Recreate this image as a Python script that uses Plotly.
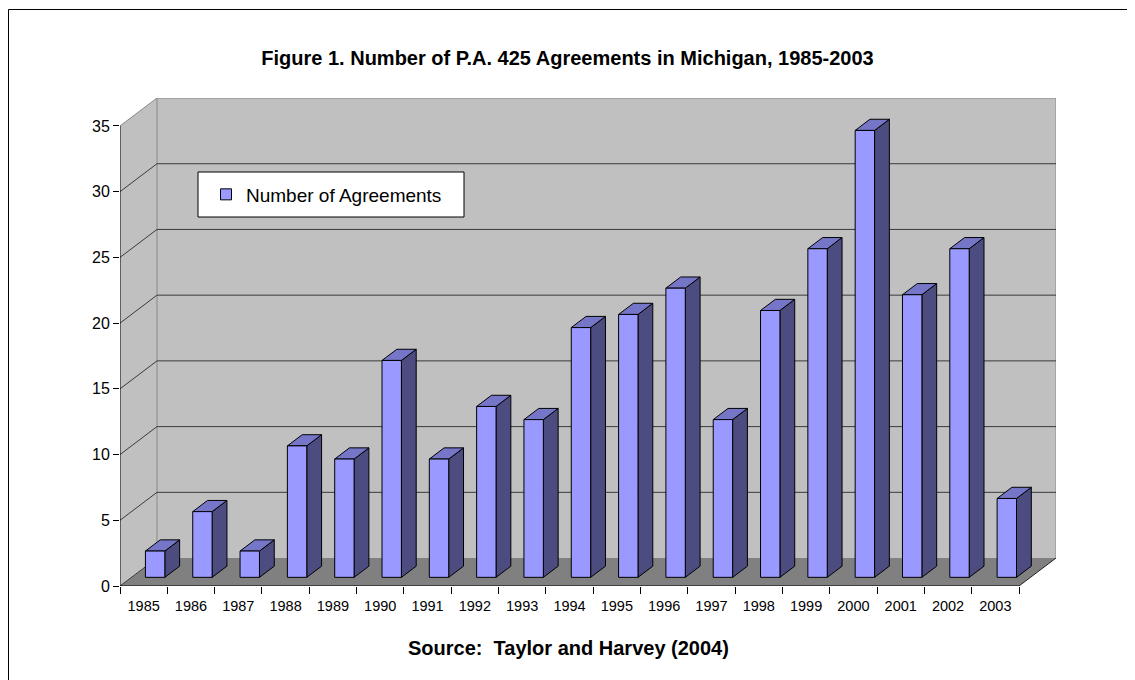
import plotly.graph_objects as go

# ---- data -------------------------------------------------------------
years = ["1985", "1986", "1987", "1988", "1989", "1990", "1991", "1992", "1993", "1994",
         "1995", "1996", "1997", "1998", "1999", "2000", "2001", "2002", "2003"]
agreements = [2, 5, 2, 10, 9, 16.5, 9, 13, 12, 19, 20, 22, 12, 20.3, 25, 34, 21.5, 25, 6]
y_ticks = [0, 5, 10, 15, 20, 25, 30, 35]
series_name = "Number of Agreements"
title_text = "Figure 1. Number of P.A. 425 Agreements in Michigan, 1985-2003"
source_text = "Source:&nbsp; Taylor and Harvey (2004)"

# ---- 3D oblique geometry (in axis units) -------------------------------
N = len(years)
YMAX = 35
DX = 0.782   # depth offset in category units
DY = 2.126   # depth offset in value units
HALF_W = 0.205
D0, D1 = 0.31, 0.71

OFF = 8  # page offset of the figure inside the browser window
W, H = 1135 - OFF, 680 - OFF
ML, MT = 120 - OFF, 98 - OFF
PW, PH = 936, 488
MR, MB = W - ML - PW, H - MT - PH

FONT = "Liberation Sans, Arial, sans-serif"

FRONT = "#9999ff"
SIDE = "#4c4c80"
TOP = "#7676c9"
WALL = "#c0c0c0"
FLOOR = "#808080"
GRID = "#3a3a3a"
EDGE = "#888888"


def proj(x, y, d):
    return x + d * DX, y + d * DY


def poly(points):
    xs, ys = [], []
    for (x, y, d) in points:
        px, py = proj(x, y, d)
        xs.append(px)
        ys.append(py)
    xs.append(xs[0])
    ys.append(ys[0])
    return xs, ys


def join(polys):
    X, Y = [], []
    for xs, ys in polys:
        X += xs + [None]
        Y += ys + [None]
    return X, Y


fig = go.Figure()

def add_fill(xs, ys, fill, line=None, lw=0):
    fig.add_trace(go.Scatter(
        x=xs, y=ys, mode="lines", fill="toself", fillcolor=fill,
        line=dict(color=line if line else fill, width=lw if line else 0),
        hoverinfo="skip", showlegend=False))

def add_line(xs, ys, color, width=1):
    fig.add_trace(go.Scatter(
        x=xs, y=ys, mode="lines", line=dict(color=color, width=width),
        hoverinfo="skip", showlegend=False))

# walls and floor
bx, by = poly([(0, 0, 1), (N, 0, 1), (N, YMAX, 1), (0, YMAX, 1)])
add_fill(bx, by, WALL)
lx, ly = poly([(0, 0, 0), (0, 0, 1), (0, YMAX, 1), (0, YMAX, 0)])
add_fill(lx, ly, WALL)
fx, fy = poly([(0, 0, 0), (N, 0, 0), (N, 0, 1), (0, 0, 1)])
add_fill(fx, fy, FLOOR)

# wall edges (grey)
ex, ey = [], []
for seg in [[(0, YMAX, 0), (0, YMAX, 1), (N, YMAX, 1), (N, 0, 1)],
            [(0, 0, 1), (0, YMAX, 1)]]:
    for p in seg:
        px, py = proj(*p)
        ex.append(px)
        ey.append(py)
    ex.append(None)
    ey.append(None)
add_line(ex, ey, EDGE)

# gridlines
gx, gy = [], []
for t in y_ticks:
    if t == YMAX:
        continue
    pts = [(0, t, 0), (0, t, 1)] if t == 0 else [(0, t, 0), (0, t, 1), (N, t, 1)]
    for p in pts:
        px, py = proj(*p)
        gx.append(px)
        gy.append(py)
    gx.append(None)
    gy.append(None)
add_line(gx, gy, GRID)

# floor right edge
rx, ry = zip(*[proj(N, 0, 0), proj(N, 0, 1)])
add_line(list(rx), list(ry), "#222222")

# bars
fronts, sides, tops = [], [], []
for i, v in enumerate(agreements):
    c = i + 0.5
    a, b = c - HALF_W, c + HALF_W
    fronts.append(poly([(a, 0, D0), (b, 0, D0), (b, v, D0), (a, v, D0)]))
    sides.append(poly([(b, 0, D0), (b, 0, D1), (b, v, D1), (b, v, D0)]))
    tops.append(poly([(a, v, D0), (b, v, D0), (b, v, D1), (a, v, D1)]))

for polys, col in [(sides, SIDE), (tops, TOP), (fronts, FRONT)]:
    X, Y = join(polys)
    add_fill(X, Y, col, line="black", lw=1)

# front axes lines
add_line([0, 0], [0, YMAX], "black")
add_line([0, N], [0, 0], "black")

# legend entry
fig.add_trace(go.Scatter(
    x=[None], y=[None], mode="markers", name=series_name,
    marker=dict(symbol="square", size=11, color=FRONT,
                line=dict(color="black", width=1)),
    showlegend=True))

# helpers: reference-window pixel -> paper coordinates
def px_to_paper_x(px):
    return (px - OFF - ML) / PW

def px_to_paper_y(py):
    return (H - MB - (py - OFF)) / PH

shapes = [
    # outer chart border
    dict(type="rect", xref="paper", yref="paper",
         x0=px_to_paper_x(8.5), x1=px_to_paper_x(1160),
         y0=px_to_paper_y(700), y1=px_to_paper_y(9.5),
         line=dict(color="black", width=1), fillcolor="rgba(0,0,0,0)", layer="below"),
    # legend box
    dict(type="rect", xref="paper", yref="paper",
         x0=px_to_paper_x(198), x1=px_to_paper_x(464),
         y0=px_to_paper_y(217), y1=px_to_paper_y(172),
         line=dict(color="black", width=1), fillcolor="white", layer="above"),
]

fig.update_layout(
    width=W, height=H,
    margin=dict(l=ML, r=MR, t=MT, b=MB, pad=0),
    paper_bgcolor="white", plot_bgcolor="white",
    font=dict(family=FONT, color="black"),
    title=dict(text="<b>" + title_text + "</b>", x=(567.5 - OFF) / W, xref="container",
               xanchor="center", y=1 - (58 - OFF) / H, yanchor="middle",
               font=dict(family=FONT, size=20, color="black")),
    showlegend=True,
    legend=dict(x=px_to_paper_x(206), y=px_to_paper_y(194.5), xanchor="left",
                yanchor="middle", bgcolor="rgba(0,0,0,0)", borderwidth=0,
                font=dict(family=FONT, size=19, color="black")),
    shapes=shapes,
    annotations=[dict(text="<b>" + source_text + "</b>", xref="paper", yref="paper",
                      x=px_to_paper_x(568), y=px_to_paper_y(648),
                      xanchor="center", yanchor="middle", showarrow=False,
                      font=dict(family=FONT, size=20, color="black"))],
    xaxis=dict(range=[0, N + DX], showgrid=False, zeroline=False, showline=False,
               tickmode="array", tickvals=[i + 0.5 for i in range(N)], ticktext=years,
               ticks="outside", ticklen=7, tickcolor="rgba(0,0,0,0)",
               tickfont=dict(family=FONT, size=14.5, color="black"),
               minor=dict(tickmode="array", tickvals=list(range(N + 1)), ticks="outside",
                          ticklen=7, tickcolor="black", tickwidth=1),
               fixedrange=True),
    yaxis=dict(range=[0, YMAX + DY], showgrid=False, zeroline=False, showline=False,
               tickmode="array", tickvals=y_ticks, ticks="outside", ticklen=6,
               tickcolor="black", tickfont=dict(family=FONT, size=16, color="black"),
               fixedrange=True),
)

fig.write_html("out.html")
